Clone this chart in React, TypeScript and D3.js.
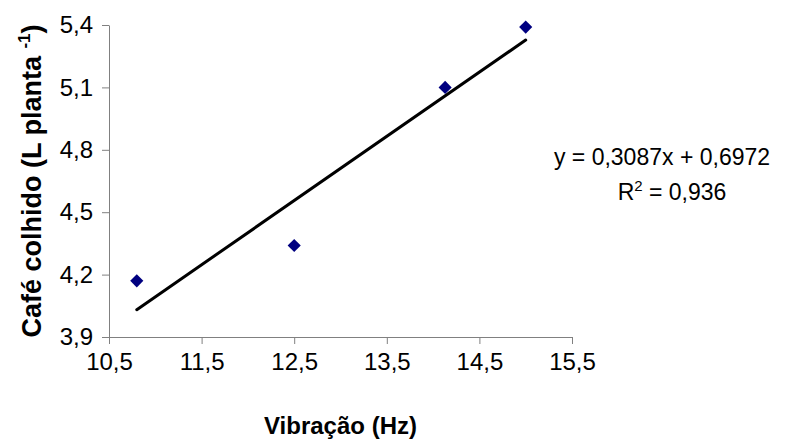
import React, { useEffect, useRef } from 'react';
import * as d3 from 'd3';

const vibracao = [10.8, 12.5, 14.13, 15.0];
const cafe = [4.17, 4.34, 5.1, 5.39];
const xTicks = [10.5, 11.5, 12.5, 13.5, 14.5, 15.5];
const yTicks = [3.9, 4.2, 4.5, 4.8, 5.1, 5.4];
const slope = 0.3087;
const intercept = 0.6972;
const r2 = 0.936;

const fmt = (v: number) => v.toFixed(1).replace('.', ',');

export default function App() {
  const ref = useRef<SVGSVGElement>(null);

  useEffect(() => {
    const width = 795;
    const height = 443;
    const margin = { top: 25, right: 223, bottom: 106, left: 109 };

    const svg = d3.select(ref.current);
    svg.selectAll('*').remove();

    const x = d3
      .scaleLinear()
      .domain([10.5, 15.5])
      .range([margin.left, width - margin.right]);
    const y = d3
      .scaleLinear()
      .domain([3.9, 5.4])
      .range([height - margin.bottom, margin.top]);

    const font = 'Liberation Sans, Arial, sans-serif';

    // axes
    const yAxis = svg
      .append('g')
      .attr('transform', `translate(${margin.left},0)`)
      .call(d3.axisLeft(y).tickValues(yTicks).tickFormat((d) => fmt(+d)).tickSize(7).tickSizeOuter(0));
    const xAxis = svg
      .append('g')
      .attr('transform', `translate(0,${height - margin.bottom})`)
      .call(d3.axisBottom(x).tickValues(xTicks).tickFormat((d) => fmt(+d)).tickSize(7).tickSizeOuter(0));

    [yAxis, xAxis].forEach((g) => {
      g.selectAll('path, line').attr('stroke', '#808080');
      g.selectAll('text').attr('fill', '#000').style('font-family', font).style('font-size', '24px');
    });
    yAxis.selectAll('text').attr('x', -16);
    xAxis.selectAll('text').attr('y', 16);

    // trendline
    const xs = d3.extent(vibracao) as [number, number];
    svg
      .append('line')
      .attr('x1', x(xs[0]))
      .attr('y1', y(slope * xs[0] + intercept))
      .attr('x2', x(xs[1]))
      .attr('y2', y(slope * xs[1] + intercept))
      .attr('stroke', '#000')
      .attr('stroke-width', 3)
      .attr('stroke-linecap', 'round');

    // points
    const diamond = d3.symbol().type(d3.symbolDiamond2).size(110);
    svg
      .append('g')
      .selectAll('path')
      .data(vibracao)
      .join('path')
      .attr('d', diamond)
      .attr('transform', (d, i) => `translate(${x(d)},${y(cafe[i])})`)
      .attr('fill', '#000080');

    // equation
    const eq = svg
      .append('g')
      .style('font-family', font)
      .style('font-size', '23px')
      .attr('text-anchor', 'middle');
    eq.append('text')
      .attr('x', 662)
      .attr('y', 165)
      .text(`y = ${slope.toString().replace('.', ',')}x + ${intercept.toString().replace('.', ',')}`);
    const r = eq.append('text').attr('x', 672).attr('y', 200);
    r.append('tspan').text('R');
    r.append('tspan').attr('dy', -9).style('font-size', '15px').text('2');
    r.append('tspan').attr('dy', 9).text(` = ${r2.toString().replace('.', ',')}`);

    // axis titles
    svg
      .append('text')
      .attr('x', (margin.left + width - margin.right) / 2)
      .attr('y', 434)
      .attr('text-anchor', 'middle')
      .style('font-family', font)
      .style('font-size', '24px')
      .style('font-weight', 'bold')
      .text('Vibração (Hz)');

    const yl = svg
      .append('text')
      .attr('transform', `translate(41,${(margin.top + height - margin.bottom) / 2}) rotate(-90)`)
      .attr('text-anchor', 'middle')
      .style('font-family', font)
      .style('font-size', '27px')
      .style('font-weight', 'bold');
    yl.append('tspan').text('Café colhido (L planta ');
    yl.append('tspan').attr('dy', -11).style('font-size', '17px').text('-1');
    yl.append('tspan').attr('dy', 11).text(')');
  }, []);

  return (
    <svg
      ref={ref}
      width={795}
      height={443}
      style={{ position: 'absolute', left: 0, top: 0, background: '#fff' }}
    />
  );
}
